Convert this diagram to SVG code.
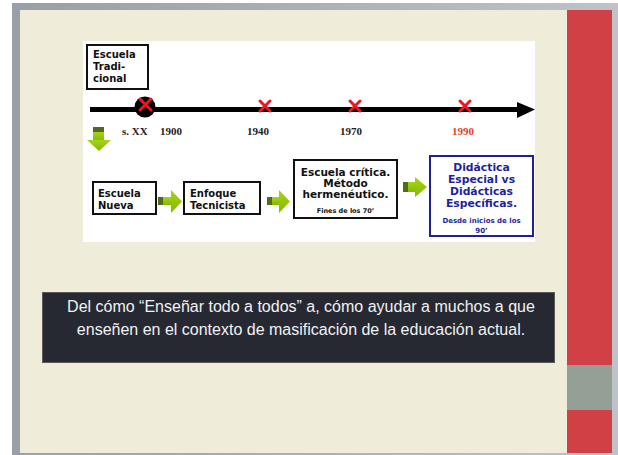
<svg xmlns="http://www.w3.org/2000/svg" width="618" height="455" viewBox="0 0 618 455">
<style>
.box{fill:#fff;stroke:#111;stroke-width:2}
.bt{font-family:"DejaVu Sans",Verdana,sans-serif;font-weight:bold;font-size:10px;fill:#111}
.blue{fill:#1f1f9e}
.yr{font-family:"Liberation Serif","Times New Roman",serif;font-weight:bold;font-size:11px;fill:#222}
.x{stroke:#f0141e;stroke-width:3;stroke-linecap:round;fill:none}
.ga{fill:url(#gg)}
.gd{fill:#4f6b1e}
.cap{font-family:"Liberation Sans",Arial,sans-serif;font-size:16px;fill:#f2f2f2}
</style>
<defs>
<linearGradient id="gg" x1="0" y1="0" x2="0" y2="1">
<stop offset="0" stop-color="#a6d418"/>
<stop offset="1" stop-color="#86b800"/>
</linearGradient>
<linearGradient id="fr" x1="0" y1="0" x2="1" y2="0">
<stop offset="0" stop-color="#9a9ea6"/>
<stop offset="1" stop-color="#bfc2c7"/>
</linearGradient>
</defs>
<rect x="0" y="0" width="618" height="455" fill="#fff"/>
<rect x="12" y="3" width="606" height="452" fill="url(#fr)"/>
<rect x="20" y="10" width="592" height="443" fill="#efedd9"/>
<rect x="567" y="10" width="45" height="443" fill="#d04044"/>
<rect x="567" y="365" width="45" height="45" fill="#94a096"/>
<rect x="83" y="41" width="452" height="201" fill="#fff"/>

<g id="connectors">
<rect x="90" y="107" width="430" height="5" fill="#000"/>
<polygon points="517,102 535,109.5 517,118" fill="#000"/>
<g id="down-arrow">
<rect x="93" y="127" width="11" height="5" class="gd"/>
<rect x="93" y="132" width="11" height="9" class="ga"/>
<polygon points="87,140 111,140 99,151" class="ga"/>
</g>
<g id="arrow1">
<rect x="158" y="197" width="5" height="8" class="gd"/>
<rect x="163" y="197" width="9" height="8" class="ga"/>
<polygon points="171,190 182,201.5 171,213" class="ga"/>
</g>
<g id="arrow2">
<rect x="267" y="197" width="5" height="8" class="gd"/>
<rect x="272" y="197" width="8" height="8" class="ga"/>
<polygon points="279,190 290,201.5 279,213" class="ga"/>
</g>
<g id="arrow3">
<rect x="403" y="182" width="5" height="10" class="gd"/>
<rect x="408" y="182" width="8" height="10" class="ga"/>
<polygon points="415,177 427,187 415,197" class="ga"/>
</g>
</g>

<g id="node-1900">
<circle cx="145" cy="107" r="10.5" fill="#000"/>
<path class="x" d="M140,99 L151,110 M151,99 L140,110"/>
<text class="yr" x="122" y="135">s. XX</text>
<text class="yr" x="160" y="135">1900</text>
</g>
<g id="node-1940">
<path class="x" d="M260,101 L270,111 M270,101 L260,111"/>
<text class="yr" x="247" y="135">1940</text>
</g>
<g id="node-1970">
<path class="x" d="M350,101 L360,111 M360,101 L350,111"/>
<text class="yr" x="340" y="135">1970</text>
</g>
<g id="node-1990">
<path class="x" d="M460,101 L470,111 M470,101 L460,111"/>
<text class="yr" x="452" y="135" style="fill:#e8401c">1990</text>
</g>

<g id="escuela-tradicional">
<rect class="box" x="87" y="45" width="61" height="44"/>
<text class="bt" x="93" y="58">Escuela</text>
<text class="bt" x="93" y="70">Tradi-</text>
<text class="bt" x="93" y="82">cional</text>
</g>
<g id="escuela-nueva">
<rect class="box" x="93" y="182" width="63" height="32"/>
<text class="bt" x="98" y="197">Escuela</text>
<text class="bt" x="98" y="209">Nueva</text>
</g>
<g id="enfoque-tecnicista">
<rect class="box" x="184" y="182" width="76" height="32"/>
<text class="bt" x="190" y="197">Enfoque</text>
<text class="bt" x="190" y="209">Tecnicista</text>
</g>
<g id="escuela-critica" text-anchor="middle">
<rect class="box" x="294" y="160" width="103" height="58"/>
<text class="bt" x="345.5" y="176" style="font-size:10.5px">Escuela crítica.</text>
<text class="bt" x="345.5" y="187" style="font-size:10.5px">Método</text>
<text class="bt" x="345.5" y="198" style="font-size:10.5px">hermenéutico.</text>
<text class="bt" x="345.5" y="213" style="font-size:6.5px">Fines de los 70’</text>
</g>
<g id="didactica" text-anchor="middle">
<rect x="430" y="156" width="103" height="80" fill="#fff" stroke="#1f1f9e" stroke-width="2"/>
<text class="bt blue" x="481.5" y="171" style="font-size:10.8px">Didáctica</text>
<text class="bt blue" x="481.5" y="183" style="font-size:10.8px">Especial vs</text>
<text class="bt blue" x="481.5" y="195" style="font-size:10.8px">Didácticas</text>
<text class="bt blue" x="481.5" y="207" style="font-size:10.8px">Específicas.</text>
<text class="bt blue" x="481.5" y="223" style="font-size:7px">Desde inicios de los</text>
<text class="bt blue" x="481.5" y="233" style="font-size:7px">90’</text>
</g>

<g id="caption">
<rect x="42.5" y="292.5" width="512" height="70" fill="#262832" stroke="#5a5a5a" stroke-width="1"/>
<text class="cap" x="301" y="312" text-anchor="middle">Del cómo “Enseñar  todo a todos” a, cómo ayudar a muchos a que</text>
<text class="cap" x="301" y="335" text-anchor="middle">enseñen en el contexto de masificación de la educación actual.</text>
</g>
</svg>
